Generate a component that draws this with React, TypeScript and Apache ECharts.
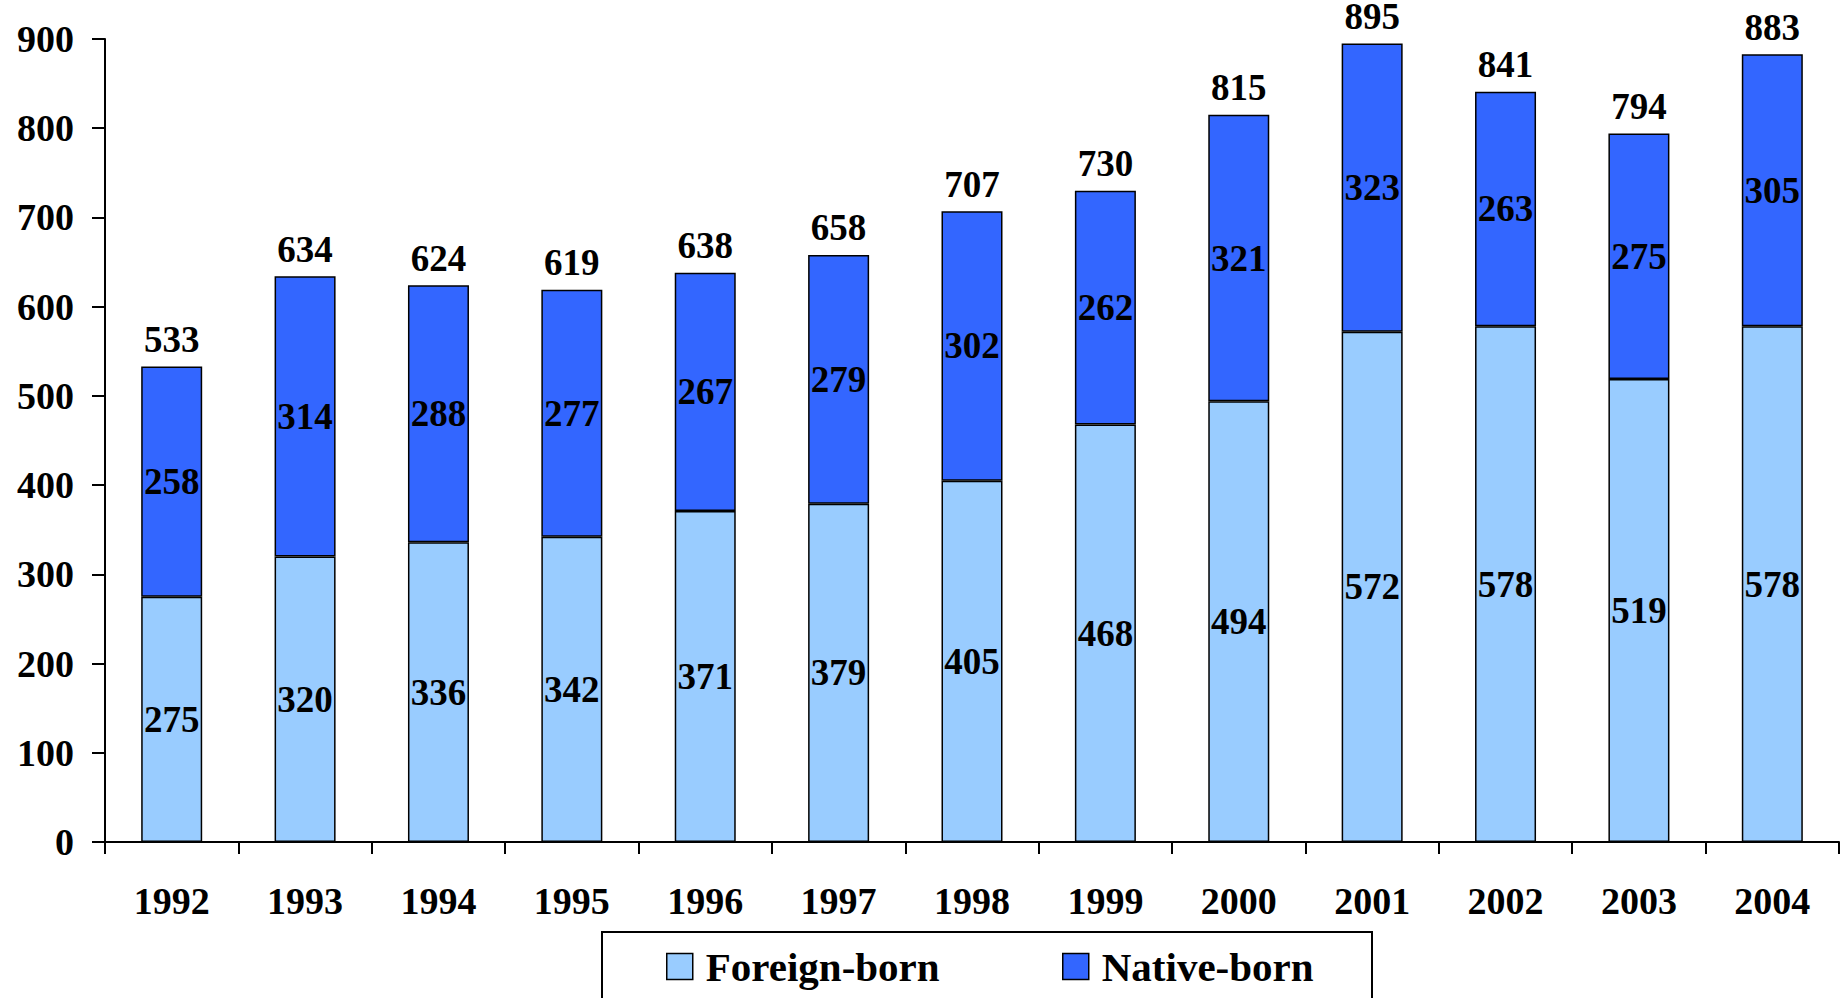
import React, { useEffect, useRef } from "react";
import * as echarts from "echarts";

const years = ["1992", "1993", "1994", "1995", "1996", "1997", "1998", "1999", "2000", "2001", "2002", "2003", "2004"];
const foreignBorn = [275, 320, 336, 342, 371, 379, 405, 468, 494, 572, 578, 519, 578];
const nativeBorn = [258, 314, 288, 277, 267, 279, 302, 262, 321, 323, 263, 275, 305];
const totals = [533, 634, 624, 619, 638, 658, 707, 730, 815, 895, 841, 794, 883];
const yTicks = { min: 0, max: 900, interval: 100 };

const FONT = "'Liberation Serif', 'Times New Roman', serif";
const LIGHT = "#99CCFF";
const DARK = "#3366FF";

export default function App() {
  const ref = useRef<HTMLDivElement>(null);

  useEffect(() => {
    if (!ref.current) return;
    const chart = echarts.init(ref.current, undefined, { renderer: "svg" });

    const segLabel = {
      show: true,
      position: "inside" as const,
      color: "#000",
      fontFamily: FONT,
      fontWeight: "bold" as const,
      fontSize: 37,
    };

    const legendText = {
      color: "#000",
      fontFamily: FONT,
      fontWeight: "bold" as const,
      fontSize: 41,
      padding: [0, 0, 0, 8],
    };

    chart.setOption({
      animation: false,
      backgroundColor: "#fff",
      grid: { left: 105, right: 5, top: 39, bottom: 156, containLabel: false },
      xAxis: {
        type: "category",
        data: years,
        boundaryGap: true,
        axisLine: { show: true, lineStyle: { color: "#000", width: 2 } },
        axisTick: { show: true, alignWithLabel: false, length: 12, lineStyle: { color: "#000", width: 2 } },
        axisLabel: { color: "#000", fontFamily: FONT, fontWeight: "bold", fontSize: 38, margin: 40 },
        splitLine: { show: false },
      },
      yAxis: {
        type: "value",
        min: yTicks.min,
        max: yTicks.max,
        interval: yTicks.interval,
        axisLine: { show: true, lineStyle: { color: "#000", width: 2 } },
        axisTick: { show: true, inside: false, length: 13, lineStyle: { color: "#000", width: 2 } },
        axisLabel: { color: "#000", fontFamily: FONT, fontWeight: "bold", fontSize: 38, margin: 31 },
        splitLine: { show: false },
      },
      legend: [
        {
          left: 666,
          top: 946,
          padding: 0,
          itemWidth: 26,
          itemHeight: 26,
          icon: "rect",
          data: [{ name: "Foreign-born", itemStyle: { color: LIGHT, borderColor: "#000", borderWidth: 1.5 } }],
          textStyle: legendText,
        },
        {
          left: 1062,
          top: 946,
          padding: 0,
          itemWidth: 26,
          itemHeight: 26,
          icon: "rect",
          data: [{ name: "Native-born", itemStyle: { color: DARK, borderColor: "#000", borderWidth: 1.5 } }],
          textStyle: legendText,
        },
      ],
      graphic: [
        {
          type: "rect",
          shape: { x: 602, y: 932, width: 770, height: 100 },
          style: { fill: "none", stroke: "#000", lineWidth: 2 },
          silent: true,
        },
      ],
      series: [
        {
          name: "Foreign-born",
          type: "bar",
          stack: "total",
          barWidth: 61,
          data: foreignBorn,
          itemStyle: { color: LIGHT, borderColor: "#000", borderWidth: 1.5 },
          label: segLabel,
        },
        {
          name: "Native-born",
          type: "bar",
          stack: "total",
          barWidth: 61,
          data: nativeBorn,
          itemStyle: { color: DARK, borderColor: "#000", borderWidth: 1.5 },
          label: segLabel,
        },
        {
          name: "Total",
          type: "line",
          data: totals,
          symbol: "circle",
          symbolSize: 0,
          showSymbol: true,
          lineStyle: { width: 0, opacity: 0 },
          itemStyle: { color: "#000" },
          label: {
            show: true,
            position: "top",
            distance: 13,
            color: "#000",
            fontFamily: FONT,
            fontWeight: "bold",
            fontSize: 37,
            lineHeight: 28,
          },
          emphasis: { disabled: true },
          z: 5,
        },
      ],
    });

    return () => chart.dispose();
  }, []);

  return (
    <div
      ref={ref}
      style={{ position: "fixed", left: 0, top: 0, width: 1844, height: 998, background: "#fff" }}
    />
  );
}
